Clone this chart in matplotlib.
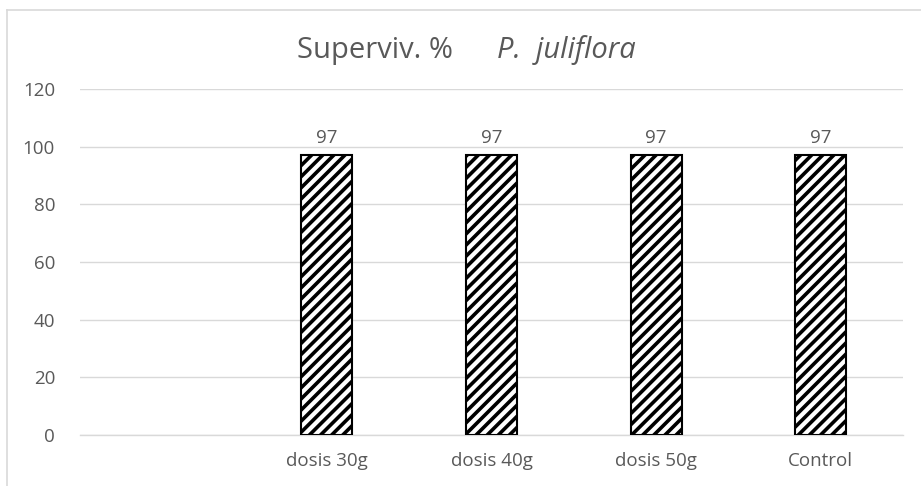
import matplotlib.pyplot as plt
import numpy as np

# Survival (%) per treatment; the first slot is left empty
categories = ['', 'dosis 30g', 'dosis 40g', 'dosis 50g', 'Control']
survival = [0, 97, 97, 97, 97]
show_label = [False, True, True, True, True]
yticks = [0, 20, 40, 60, 80, 100, 120]

plt.rcParams['font.family'] = ['Open Sans', 'DejaVu Sans']
plt.rcParams['hatch.linewidth'] = 2.6
text_color = '#595959'
grid_color = '#d9d9d9'

fig = plt.figure(figsize=(9.21, 4.86), dpi=100)
ax = fig.add_axes([0.0869, 0.105, 0.8935, 0.712])

x = np.arange(len(categories))
for xi, val, show in zip(x, survival, show_label):
    if not show:
        continue
    ax.bar(xi, val, width=0.31, color='white', edgecolor='black',
           linewidth=1.5, hatch='///', zorder=3)
    ax.text(xi, val + 4.3, f'{val:g}', ha='center', va='baseline',
            fontsize=13.5, color=text_color)

ax.set_xlim(-0.5, len(categories) - 0.5)
ax.set_ylim(0, 120)
ax.set_yticks(yticks)
ax.set_xticks(x)
ax.set_xticklabels(categories)
ax.tick_params(axis='both', length=0, labelsize=13.5, colors=text_color)
ax.tick_params(axis='y', pad=18)
ax.tick_params(axis='x', pad=12)
ax.grid(axis='y', color=grid_color, linewidth=1, zorder=0)
for side in ['top', 'right', 'left']:
    ax.spines[side].set_visible(False)
ax.spines['bottom'].set_color(grid_color)
ax.spines['bottom'].set_linewidth(1)

# Title: plain part plus italic species name
fig.text(0.492, 0.881, 'Superviv. %', ha='right', va='baseline',
         fontsize=21, color=text_color)
fig.text(0.5396, 0.881, 'P.  juliflora', ha='left', va='baseline',
         fontsize=21, color=text_color, style='italic')

# Light chart-area border along top and left
fig.add_artist(plt.Line2D([0.0076, 1.0], [0.979, 0.979], color=grid_color,
                          linewidth=1.2, transform=fig.transFigure))
fig.add_artist(plt.Line2D([0.0076, 0.0076], [0.0, 0.979], color=grid_color,
                          linewidth=1.2, transform=fig.transFigure))

fig.savefig('out.png', dpi=100, facecolor='white')
